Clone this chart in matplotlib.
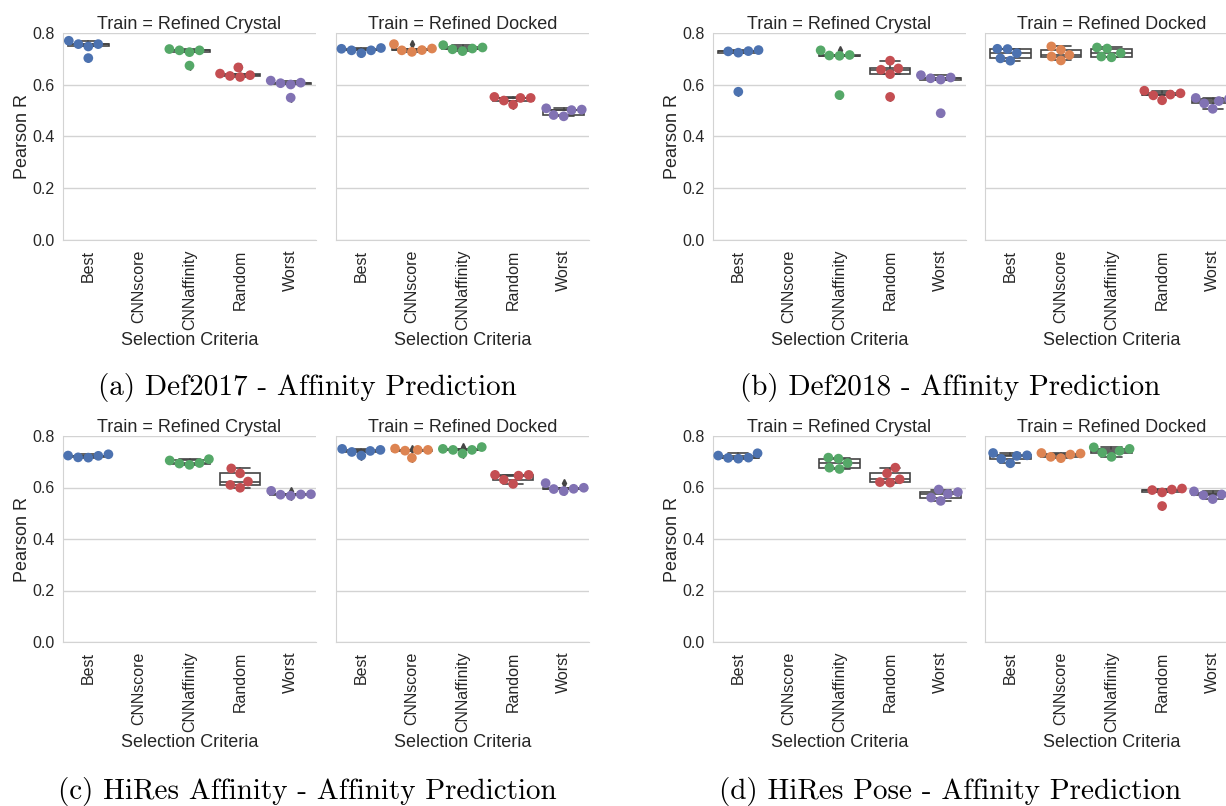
import matplotlib
matplotlib.use('Agg')
import matplotlib.pyplot as plt
import pandas as pd
import seaborn as sns

sns.set_style('whitegrid')
plt.rcParams['font.family'] = ['Liberation Sans', 'DejaVu Sans']

criteria = ['Best', 'CNNscore', 'CNNaffinity', 'Random', 'Worst']
colors = ['#4C72B0', '#DD8452', '#55A868', '#C44E52', '#8172B3']
box_col = '#444444'

# (a) Def2017 - Affinity Prediction
def2017_crystal = {
    'Best': [0.770, 0.748, 0.703, 0.757, 0.757],
    'CNNaffinity': [0.738, 0.726, 0.674, 0.733, 0.733],
    'Random': [0.643, 0.634, 0.630, 0.637, 0.667],
    'Worst': [0.616, 0.601, 0.550, 0.606, 0.608],
}
def2017_docked = {
    'Best': [0.742, 0.733, 0.722, 0.733, 0.739],
    'CNNscore': [0.740, 0.733, 0.727, 0.734, 0.757],
    'CNNaffinity': [0.753, 0.737, 0.730, 0.740, 0.744],
    'Random': [0.553, 0.539, 0.523, 0.549, 0.549],
    'Worst': [0.509, 0.483, 0.478, 0.502, 0.504],
}

# (b) Def2018 - Affinity Prediction
def2018_crystal = {
    'Best': [0.734, 0.729, 0.724, 0.730, 0.573],
    'CNNaffinity': [0.733, 0.713, 0.712, 0.715, 0.560],
    'Random': [0.693, 0.658, 0.641, 0.663, 0.553],
    'Worst': [0.637, 0.625, 0.620, 0.628, 0.490],
}
def2018_docked = {
    'Best': [0.738, 0.702, 0.693, 0.722, 0.739],
    'CNNscore': [0.735, 0.709, 0.694, 0.715, 0.748],
    'CNNaffinity': [0.740, 0.709, 0.706, 0.722, 0.744],
    'Random': [0.577, 0.559, 0.540, 0.562, 0.567],
    'Worst': [0.549, 0.528, 0.507, 0.537, 0.545],
}

# (c) HiRes Affinity - Affinity Prediction
hires_aff_crystal = {
    'Best': [0.724, 0.717, 0.716, 0.723, 0.729],
    'CNNaffinity': [0.705, 0.693, 0.688, 0.695, 0.710],
    'Random': [0.674, 0.623, 0.599, 0.610, 0.655],
    'Worst': [0.587, 0.572, 0.568, 0.574, 0.573],
}
hires_aff_docked = {
    'Best': [0.750, 0.738, 0.724, 0.742, 0.746],
    'CNNscore': [0.751, 0.743, 0.715, 0.746, 0.746],
    'CNNaffinity': [0.757, 0.746, 0.732, 0.746, 0.750],
    'Random': [0.649, 0.630, 0.614, 0.646, 0.649],
    'Worst': [0.617, 0.594, 0.586, 0.595, 0.599],
}

# (d) HiRes Pose - Affinity Prediction
hires_pose_crystal = {
    'Best': [0.724, 0.715, 0.712, 0.716, 0.733],
    'CNNaffinity': [0.712, 0.677, 0.672, 0.695, 0.716],
    'Random': [0.655, 0.621, 0.619, 0.632, 0.677],
    'Worst': [0.592, 0.561, 0.548, 0.575, 0.582],
}
hires_pose_docked = {
    'Best': [0.734, 0.711, 0.694, 0.723, 0.725],
    'CNNscore': [0.734, 0.719, 0.714, 0.728, 0.732],
    'CNNaffinity': [0.756, 0.735, 0.719, 0.742, 0.750],
    'Random': [0.596, 0.581, 0.528, 0.590, 0.592],
    'Worst': [0.585, 0.570, 0.555, 0.573, 0.580],
}

captions = ['(a) Def2017 - Affinity Prediction',
            '(b) Def2018 - Affinity Prediction',
            '(c) HiRes Affinity - Affinity Prediction',
            '(d) HiRes Pose - Affinity Prediction']
panels = [(def2017_crystal, def2017_docked),
          (def2018_crystal, def2018_docked),
          (hires_aff_crystal, hires_aff_docked),
          (hires_pose_crystal, hires_pose_docked)]
train_titles = ['Train = Refined Crystal', 'Train = Refined Docked']

W, H = 1226, 806
fig = plt.figure(figsize=(W / 100, H / 100), dpi=100)


def px_axes(left, top, right, bottom):
    return fig.add_axes([left / W, 1 - bottom / H, (right - left) / W, (bottom - top) / H])


def draw(ax, values, title, first):
    present = [c for c in criteria if c in values]
    rows = [(c, v) for c in present for v in values[c]]
    df = pd.DataFrame(rows, columns=['crit', 'r'])
    sns.swarmplot(data=df, x='crit', y='r', order=criteria, hue='crit',
                  hue_order=criteria, palette=colors, size=7, ax=ax,
                  zorder=3, linewidth=0)
    if ax.get_legend() is not None:
        ax.get_legend().remove()
    line = dict(color=box_col, lw=1.2)
    ax.boxplot([values[c] for c in present],
               positions=[criteria.index(c) for c in present],
               widths=0.8, patch_artist=True, manage_ticks=False,
               boxprops=dict(facecolor='white', edgecolor=box_col, lw=1.2),
               medianprops=line, whiskerprops=line, capprops=line,
               flierprops=dict(marker='d', markersize=4, markerfacecolor=box_col,
                               markeredgecolor=box_col))
    ax.set_xlim(-0.5, 4.5)
    ax.set_ylim(0, 0.8)
    ax.set_yticks([0.0, 0.2, 0.4, 0.6, 0.8])
    ax.set_xticks(range(len(criteria)))
    ax.set_xticklabels(criteria, rotation=90, va='top', ha='center')
    ax.grid(axis='x', visible=False)
    ax.grid(axis='y', color='#d3d3d3', lw=1)
    for s in ['top', 'right']:
        ax.spines[s].set_visible(False)
    for s in ['left', 'bottom']:
        ax.spines[s].set_color('#d3d3d3')
    ax.tick_params(axis='both', labelsize=11.5, colors='#262626', length=0)
    ax.tick_params(axis='x', pad=7)
    ax.tick_params(axis='y', pad=6)
    ax.set_xlabel('Selection Criteria', fontsize=13, color='#262626', labelpad=1)
    if first:
        ax.set_ylabel('Pearson R', fontsize=13, color='#262626', labelpad=1)
    else:
        ax.set_ylabel('')
        ax.set_yticklabels([])
    ax.set_title(title, fontsize=13, color='#262626', pad=3)


# axes rectangles in pixels: left, top, right, bottom
rects = [
    [(63, 33, 316, 240), (336, 33, 589, 240)],
    [(713, 33, 966, 240), (985, 33, 1238, 240)],
    [(63, 436, 316, 642), (336, 436, 589, 642)],
    [(713, 436, 966, 642), (985, 436, 1238, 642)],
]
cap_pos = [(307, 388), (950, 388), (307, 791), (950, 791)]

for (crys, dock), rr, cap, cp in zip(panels, rects, captions, cap_pos):
    ax1 = px_axes(*rr[0])
    draw(ax1, crys, train_titles[0], True)
    ax2 = px_axes(*rr[1])
    draw(ax2, dock, train_titles[1], False)
    fig.text(cp[0] / W, 1 - cp[1] / H, cap, fontfamily='cmr10', fontsize=21,
             ha='center', va='center', color='black')

fig.savefig('out.png', dpi=100)
